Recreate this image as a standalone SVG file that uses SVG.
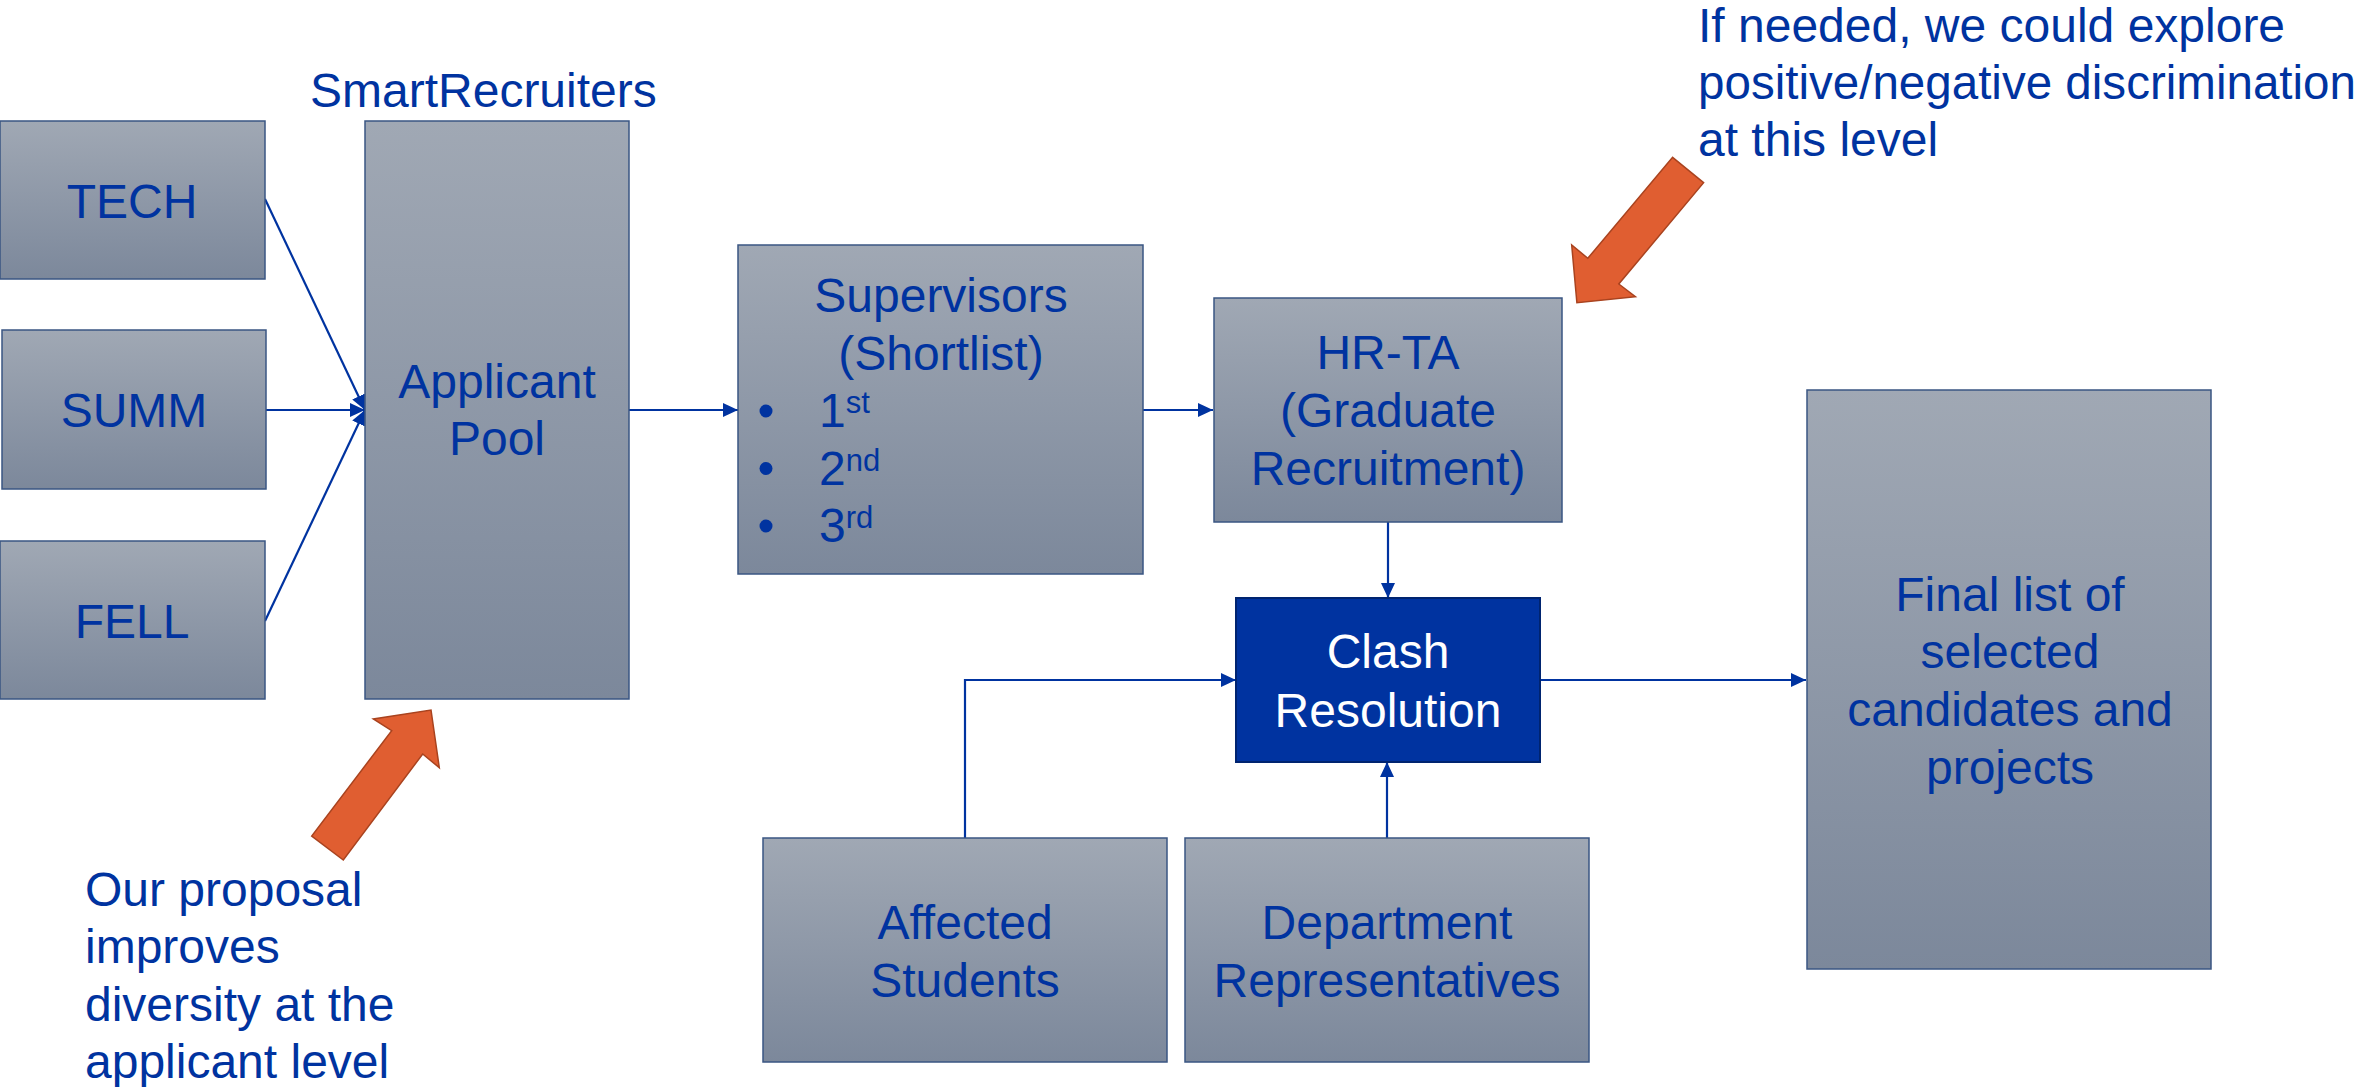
<svg xmlns="http://www.w3.org/2000/svg" width="2361" height="1087" viewBox="0 0 2361 1087">
<defs>
<linearGradient id="g" x1="0" y1="0" x2="0" y2="1">
<stop offset="0" stop-color="#A0A8B4"/>
<stop offset="1" stop-color="#7C889B"/>
</linearGradient>
<marker id="ah" markerWidth="15" markerHeight="14" refX="15" refY="7" orient="auto" markerUnits="userSpaceOnUse">
<path d="M0,0 L15,7 L0,14 z" fill="#0033A0"/>
</marker>
<style>
.box{fill:url(#g);stroke:#3A5683;stroke-width:1.5}
.t{font-family:"Liberation Sans",Arial,sans-serif;font-size:48px;fill:#0033A0}
.c{text-anchor:middle}
.w{fill:#FFFFFF}
.con{fill:none;stroke:#0033A0;stroke-width:2.2;marker-end:url(#ah)}
.oa{fill:#E05E31;stroke:#A9431F;stroke-width:1.5}
.sup{font-size:31px}
.bul{fill:#0033A0}
</style>
</defs>
<rect width="2361" height="1087" fill="#FFFFFF"/>

<g id="connectors">
<line class="con" x1="265" y1="199" x2="365" y2="410"/>
<line class="con" x1="266" y1="410" x2="365" y2="410"/>
<line class="con" x1="265" y1="621" x2="365" y2="410"/>
<line class="con" x1="629" y1="410" x2="738" y2="410"/>
<line class="con" x1="1143" y1="410" x2="1213" y2="410"/>
<line class="con" x1="1388" y1="522" x2="1388" y2="598"/>
<path class="con" d="M965,838 V680 H1236"/>
<line class="con" x1="1387" y1="838" x2="1387" y2="762"/>
<line class="con" x1="1540" y1="680" x2="1806" y2="680"/>
</g>

<g id="tech">
<rect class="box" x="0" y="121" width="265" height="158"/>
<text class="t c" x="132" y="218">TECH</text>
</g>
<g id="summ">
<rect class="box" x="2" y="330" width="264" height="159"/>
<text class="t c" x="134" y="427">SUMM</text>
</g>
<g id="fell">
<rect class="box" x="0" y="541" width="265" height="158"/>
<text class="t c" x="132" y="638">FELL</text>
</g>

<g id="smartrecruiters-label">
<text class="t" x="310" y="107">SmartRecruiters</text>
</g>

<g id="applicant-pool">
<rect class="box" x="365" y="121" width="264" height="578"/>
<text class="t c" x="497" y="398">Applicant</text>
<text class="t c" x="497" y="455">Pool</text>
</g>

<g id="supervisors">
<rect class="box" x="738" y="245" width="405" height="329"/>
<text class="t c" x="941" y="312">Supervisors</text>
<text class="t c" x="941" y="370">(Shortlist)</text>
<circle class="bul" cx="766" cy="411" r="6.5"/>
<text class="t" x="819" y="427">1<tspan class="sup" dy="-14">st</tspan></text>
<circle class="bul" cx="766" cy="468.5" r="6.5"/>
<text class="t" x="819" y="485">2<tspan class="sup" dy="-14">nd</tspan></text>
<circle class="bul" cx="766" cy="526" r="6.5"/>
<text class="t" x="819" y="542">3<tspan class="sup" dy="-14">rd</tspan></text>
</g>

<g id="hr-ta">
<rect class="box" x="1214" y="298" width="348" height="224"/>
<text class="t c" x="1388" y="369">HR-TA</text>
<text class="t c" x="1388" y="427">(Graduate</text>
<text class="t c" x="1388" y="485">Recruitment)</text>
</g>

<g id="clash-resolution">
<rect x="1236" y="598" width="304" height="164" fill="#0033A0" stroke="#002470" stroke-width="2"/>
<text class="t c w" x="1388" y="668">Clash</text>
<text class="t c w" x="1388" y="727">Resolution</text>
</g>

<g id="affected-students">
<rect class="box" x="763" y="838" width="404" height="224"/>
<text class="t c" x="965" y="939">Affected</text>
<text class="t c" x="965" y="997">Students</text>
</g>

<g id="department-representatives">
<rect class="box" x="1185" y="838" width="404" height="224"/>
<text class="t c" x="1387" y="939">Department</text>
<text class="t c" x="1387" y="997">Representatives</text>
</g>

<g id="final-list">
<rect class="box" x="1807" y="390" width="404" height="579"/>
<text class="t c" x="2010" y="611">Final list of</text>
<text class="t c" x="2010" y="668">selected</text>
<text class="t c" x="2010" y="726">candidates and</text>
<text class="t c" x="2010" y="784">projects</text>
</g>

<g id="note-top">
<polygon class="oa" points="1672.6,157.3 1703.6,182.7 1618.8,284 1635.4,296.7 1576.9,302.7 1571.7,245 1587.8,258.3"/>
<text class="t" x="1698" y="42">If needed, we could explore</text>
<text class="t" x="1698" y="99" textLength="658" lengthAdjust="spacingAndGlyphs">positive/negative discrimination</text>
<text class="t" x="1698" y="156">at this level</text>
</g>

<g id="note-bottom">
<polygon class="oa" points="431,710 439.3,767.7 422.7,754 343.3,860 311.7,836 391.7,730.7 373.3,719"/>
<text class="t" x="85" y="906">Our proposal</text>
<text class="t" x="85" y="963">improves</text>
<text class="t" x="85" y="1021">diversity at the</text>
<text class="t" x="85" y="1078">applicant level</text>
</g>
</svg>
